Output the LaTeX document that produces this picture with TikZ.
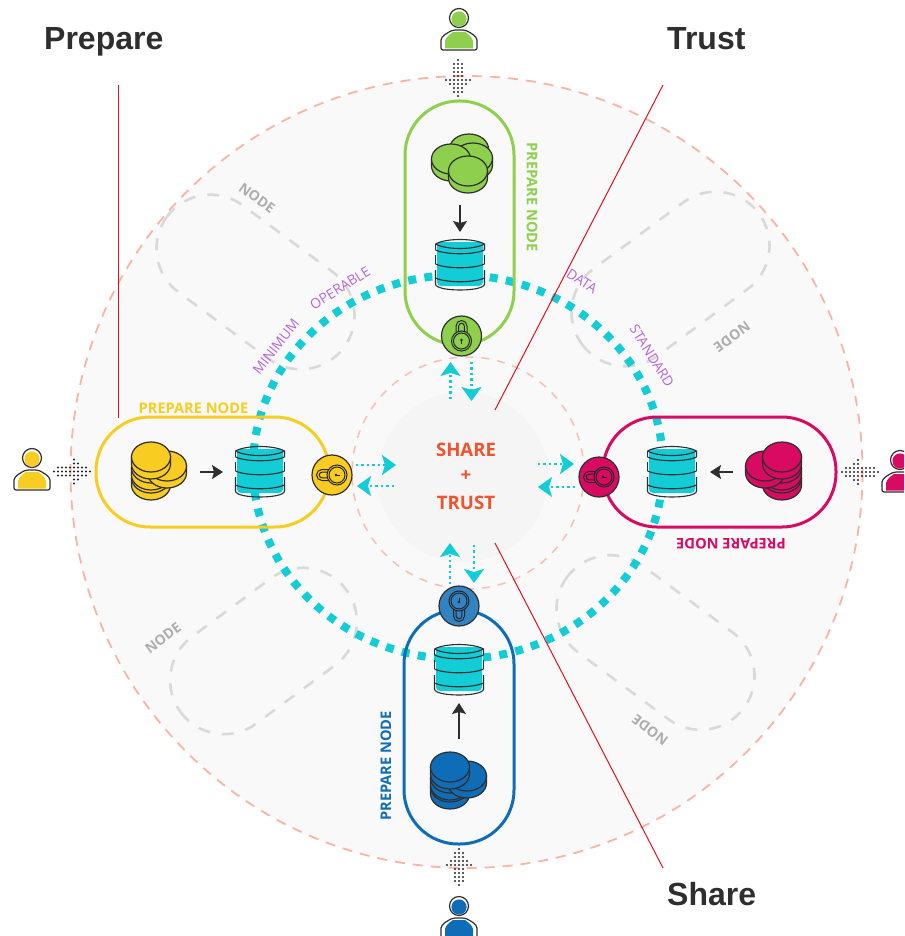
\documentclass[tikz,border=0pt]{standalone}
\usepackage{fontspec}
\setmainfont{Open Sans}
\newfontfamily\headfont{Liberation Sans}
\usetikzlibrary{arrows.meta,positioning}
\definecolor{ink}{HTML}{2E2E2E}
\definecolor{tealc}{HTML}{12CCD6}
\definecolor{salmon}{HTML}{F9B4A3}
\definecolor{ghostc}{HTML}{D9D9D9}
\definecolor{greenc}{HTML}{8ED04E}
\definecolor{yellowc}{HTML}{F9CC22}
\definecolor{crimsonc}{HTML}{D90A62}
\definecolor{bluec}{HTML}{0F6DB8}
\definecolor{purplec}{HTML}{B765D6}
\definecolor{sharec}{HTML}{F2522E}
\definecolor{redc}{HTML}{E0101F}
\tikzset{pill/.style={line width=3,rounded corners=54}}
\tikzset{ghost/.style={ghostc,line width=2.6,dash pattern=on 12pt off 12pt,rounded corners=54}}
\tikzset{headline/.style={font=\headfont\bfseries\fontsize{32}{36}\selectfont,text=ink,anchor=base west,inner sep=0}}
\tikzset{preplabel/.style={font=\bfseries\fontsize{14.6}{16}\selectfont,inner sep=0}}
\tikzset{ghostlabel/.style={font=\bfseries\fontsize{14}{16}\selectfont,text=black!32,inner sep=0}}
\tikzset{rimlabel/.style={font=\fontsize{13.8}{16}\selectfont,text=purplec,inner sep=0}}
\tikzset{sharelabel/.style={font=\bfseries\fontsize{18.6}{22}\selectfont,text=sharec,inner sep=0}}
\tikzset{lockbase/.style={circle,draw=ink,line width=1.2,minimum size=40,inner sep=0}}
\tikzset{flow/.style={tealc,line width=2.4,dash pattern=on 2.4pt off 3pt,-{Stealth[length=14,width=20,inset=3,sep=0]}}}
\tikzset{feed/.style={ink,line width=1.1,-{Stealth[length=11,width=14,inset=2]}}}
\tikzset{redline/.style={draw=redc,line width=1}}

\newcommand{\coin}[3]{
  \fill[#1,draw=ink,line width=1.2] (#2-19.5,#3) -- (#2-19.5,#3+7) arc[start angle=180,end angle=0,x radius=19.5,y radius=15] -- (#2+19.5,#3) -- cycle;
  \draw[ink,line width=1.2,fill=#1] (#2,#3) ellipse[x radius=19.5,y radius=15];
}
\newcommand{\drum}[2]{
  \begin{scope}[shift={(#1,#2)}]
    \fill[tealc,rounded corners=4] (-23,-23) rectangle (23,21);
    \draw[ink,line width=1.1] (-24.5,-21) .. controls (-14,-27) and (14,-27) .. (24.5,-21) -- (24.5,-15);
    \draw[ink,line width=1.1] (-24.5,-21) .. controls (-14,-15) and (14,-15) .. (24.5,-21);
    \foreach \y in {-15,-1,13}{
      \draw[ink,line width=1.1] (-24.5,\y) .. controls (-14,\y+5) and (14,\y+5) .. (24.5,\y);
    }
    \draw[ink,line width=1.1] (-24.5,-21) -- (-24.5,-15);
    \draw[ink,line width=1.1] (-24.5,-10) -- (-24.5,-1);
    \draw[ink,line width=1.1] (24.5,-10) -- (24.5,-1);
    \draw[ink,line width=1.1] (-24.5,5) -- (-24.5,19) .. controls (-24.5,27) and (24.5,27) .. (24.5,19) -- (24.5,5);
  \end{scope}
}
\newcommand{\padlock}[2]{
  \begin{scope}[shift={(#1)},rotate=#2]
    \draw[black!85,line width=1] (0,5) circle (10);
    \draw[black!85,line width=1] (0,5) circle (8);
    \draw[black!85,line width=1] (-5.5,-3) -- (-5.5,-10) arc[start angle=180,end angle=360,x radius=5.5,y radius=5.5] -- (5.5,-3);
    \draw[black!85,line width=1] (-2.8,-4) -- (-2.8,-10) arc[start angle=180,end angle=360,x radius=2.8,y radius=2.8] -- (2.8,-4);
    \fill[black!85] (0,4) circle (1.4);
    \draw[black!85,line width=1] (0,4) -- (0,8);
  \end{scope}
}
\newcommand{\person}[3]{
  \begin{scope}[shift={(#1,#2)}]
    \draw[ink,line width=1.2,fill=white] (0,0) circle (9.5);
    \fill[#3] (0,1) circle (7.6);
    \draw[ink,line width=1.2,fill=white,rounded corners=2] (-18,32) -- (-18,24) .. controls (-18,18) and (-10,14) .. (-6,12) -- (6,12) .. controls (10,14) and (18,18) .. (18,24) -- (18,32) -- cycle;
    \fill[#3] (-14,30.5) -- (-14,23) .. controls (-13,19) and (-9,16) .. (-6,14) -- (6,14) .. controls (9,16) and (13,19) .. (14,23) -- (14,30.5) -- cycle;
  \end{scope}
}
\newcommand{\dotarrow}[2]{
  \begin{scope}[shift={(#1)},rotate=#2]
    \foreach \dx/\ys in {0/{0},4/{-4,0,4},8/{-4,0,4},12/{-4,0,4},16/{-4,0,4},20/{-12,-8,-4,0,4,8,12},24/{-8,-4,0,4,8},28/{-4,0,4},32/{-4,0,4},36/{0}}{
      \foreach \dy in \ys{
        \fill[black!85] (\dx,\dy) circle (1.2);
      }
    }
  \end{scope}
}

\begin{document}
\begin{tikzpicture}[x=1pt,y=-1pt]
  \useasboundingbox (0,0) rectangle (904,936);
  \clip (0,0) rectangle (904,936);

  \draw[salmon,fill=black!2.4,line width=1.8,dash pattern=on 10pt off 8pt] (466.5,472) circle (396);
  \draw[salmon!85,line width=1.5,dash pattern=on 8pt off 8pt] (468,473) circle (116);
  \fill[black!4] (463,477) circle (85);

  % dashed spare nodes
  \draw[ghost,shift={(255.5,282)},rotate=-36.5] (-110,-54) rectangle (110,54);
  \draw[ghost,shift={(670.5,279)},rotate=36.5] (-110,-54) rectangle (110,54);
  \draw[ghost,shift={(263.5,651)},rotate=36.5] (-103,-54) rectangle (103,54);
  \draw[ghost,shift={(655.5,642.5)},rotate=-36.5] (-110,-54) rectangle (110,54);
  \node[ghostlabel,rotate=-36] (nodeA) at (257,198) {NODE};
  \node[ghostlabel,rotate=216] (nodeB) at (732,337) {NODE};
  \node[ghostlabel,rotate=37] (nodeC) at (163,638) {NODE};
  \node[ghostlabel,rotate=143] (nodeD) at (650,730) {NODE};

  \draw[tealc,line width=8,dash pattern=on 8pt off 8.4pt] (458,467) ellipse[x radius=205,y radius=192];

  \node[rimlabel,rotate=52] (minimum) at (276,347) {MINIMUM};
  \node[rimlabel,rotate=32] (operable) at (340,288) {OPERABLE};
  \node[rimlabel,rotate=-33] (data) at (582,281) {DATA};
  \node[rimlabel,rotate=-58] (standard) at (652,356) {STANDARD};

  \draw[pill,greenc] (405,101) rectangle (514,345);
  \draw[pill,yellowc] (96,417) rectangle (329,527);
  \draw[pill,crimsonc] (603,417) rectangle (836,527);
  \draw[pill,bluec] (404,610) rectangle (514,844);

  \node[preplabel,text=greenc,rotate=-90] (prepGreen) at (532,197) {PREPARE NODE};
  \node[preplabel,text=yellowc] (prepYellow) at (193.5,408) {PREPARE NODE};
  \node[preplabel,text=crimsonc,rotate=180] (prepCrimson) at (731,544) {PREPARE NODE};
  \node[preplabel,text=bluec,rotate=90] (prepBlue) at (386,766) {PREPARE NODE};

  \drum{460}{265}
  \drum{260}{472}
  \drum{672}{472}
  \drum{459}{670}

  \coin{greenc}{469}{149}
  \coin{greenc}{473}{158}
  \coin{greenc}{451}{159}
  \coin{greenc}{468}{171}

  \coin{yellowc}{151}{478}
  \coin{yellowc}{151}{468}
  \coin{yellowc}{167}{466}
  \coin{yellowc}{151}{457}

  \coin{crimsonc}{782}{478}
  \coin{crimsonc}{782}{468}
  \coin{crimsonc}{765}{466}
  \coin{crimsonc}{782}{457}

  \coin{bluec}{450}{787}
  \coin{bluec}{450}{778}
  \coin{bluec}{467}{776}
  \coin{bluec}{450}{767}

  \coordinate (feedGreenA) at (460,205);
  \coordinate (feedGreenB) at (460,232);
  \coordinate (feedYellowA) at (200,472);
  \coordinate (feedYellowB) at (223,472);
  \coordinate (feedCrimsonA) at (733,472);
  \coordinate (feedCrimsonB) at (710,472);
  \coordinate (feedBlueA) at (459,739);
  \coordinate (feedBlueB) at (459,703);
  \foreach \n in {Green,Yellow,Crimson,Blue}{
    \draw[feed] (feed\n A) -- (feed\n B);
  }

  \node[lockbase,fill=greenc] (lockGreen) at (461.5,336) {};
  \node[lockbase,fill=yellowc] (lockYellow) at (332,475) {};
  \node[lockbase,fill=crimsonc] (lockCrimson) at (599,477) {};
  \node[lockbase,fill=bluec!85!white] (lockBlue) at (459,606) {};
  \padlock{lockGreen}{0}
  \padlock{lockYellow}{90}
  \padlock{lockCrimson}{90}
  \padlock{lockBlue}{180}

  \coordinate (a1) at (450.5,399); \coordinate (a2) at (450.5,362);
  \coordinate (b1) at (471.5,362); \coordinate (b2) at (471.5,401);
  \coordinate (c1) at (356,465);   \coordinate (c2) at (396,465);
  \coordinate (d1) at (394,486);   \coordinate (d2) at (357,486);
  \coordinate (e1) at (538,464);   \coordinate (e2) at (574,464);
  \coordinate (f1) at (575,487);   \coordinate (f2) at (538,487);
  \coordinate (g1) at (450,584);   \coordinate (g2) at (450,543);
  \coordinate (h1) at (474,545);   \coordinate (h2) at (474,583);
  \foreach \n in {a,b,c,d,e,f,g,h}{
    \draw[flow] (\n1) -- (\n2);
  }

  \node[sharelabel] (share) at (466,450) {SHARE};
  \node[sharelabel] (plusSign) at (466,476) {+};
  \node[sharelabel] (trust) at (466,503) {TRUST};

  \dotarrow{458,60}{-90}
  \dotarrow{54,471.5}{0}
  \dotarrow{878,472}{180}
  \dotarrow{459,885}{90}
  \person{459}{18}{greenc}
  \person{32}{458}{yellowc}
  \person{900}{460}{crimsonc}
  \person{459}{906}{bluec}

  \node[headline] (prepareTitle) at (44,50) {Prepare};
  \node[headline] (trustTitle) at (667,50) {Trust};
  \node[headline] (shareTitle) at (667,905) {Share};
  \coordinate (prepareA) at (118,85);  \coordinate (prepareB) at (118,418);
  \coordinate (trustA) at (663,85);    \coordinate (trustB) at (495,410);
  \coordinate (shareA) at (663,868);   \coordinate (shareB) at (495,543);
  \draw[redline] (prepareA) -- (prepareB);
  \draw[redline] (trustA) -- (trustB);
  \draw[redline] (shareA) -- (shareB);
\end{tikzpicture}
\end{document}
